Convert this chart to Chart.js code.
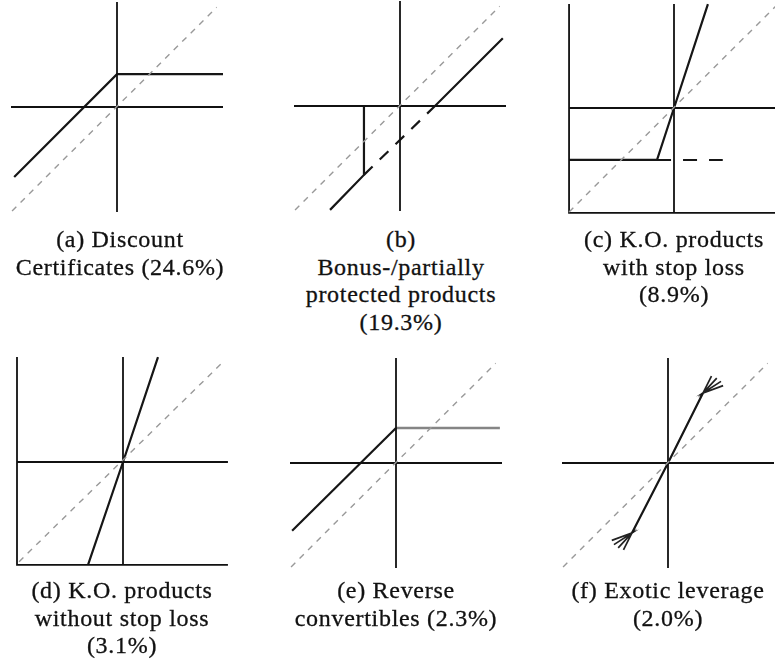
<!DOCTYPE html>
<html>
<head>
<meta charset="utf-8">
<script src="https://cdn.jsdelivr.net/npm/chart.js@4"></script>
<style>
  html, body { margin: 0; padding: 0; background: #fff; overflow: hidden; }
  body { width: 775px; height: 667px; position: relative; }
  .panel { position: absolute; width: 240px; height: 240px; }
  .caption {
    position: absolute; width: 260px; text-align: center;
    font-family: "Liberation Serif", "Times New Roman", serif;
    font-size: 24px; line-height: 27.5px; letter-spacing: 0.7px;
    color: #111; -webkit-text-stroke: 0.3px #111; white-space: nowrap;
  }
</style>
</head>
<body>
<script>
// Payoff profiles, expressed in units of the underlying (x) and product value (y).
// Reference line: the underlying itself (45° diagonal).
const diagonal = [[-0.99, -0.98], [0.94, 0.94]];
const axisH = [[-1.0, 0], [1.0, 0]];
const axisV = [[0, -0.99], [0, 0.99]];

// (a) Discount certificates: capped upside
const discountPayoff = [[-0.97, -0.66], [0, 0.31], [1.0, 0.31]];

// (b) Bonus / partially protected products
const bonusPayoff = [[-0.66, -0.98], [-0.34, -0.65], [-0.34, 0], [0.33, 0], [0.97, 0.64]];
const bonusKnockedIn = [[-0.34, -0.65], [0.33, 0]];

// (c) K.O. products with stop loss
const koFrameC = [[-0.99, 0.98], [-0.99, -0.99], [1.05, -0.99]];
const koAxisC = [[-0.99, 0], [1.05, 0]];
const koAxisVC = [[0, -0.99], [0, 0.98]];
const koDiagonalC = [[-0.99, -0.98], [1.0, 1.0]];
const koStopPayoff = [[-0.99, -0.49], [-0.16, -0.49], [0, 0], [0.32, 0.98]];
const koStopRemainder = [[-0.16, -0.49], [0.46, -0.49]];

// (d) K.O. products without stop loss
const koFrameD = [[-1.0, 0.99], [-1.0, -0.97], [0.99, -0.97]];
const koAxisD = [[-1.0, 0], [0.99, 0]];
const koAxisVD = [[0, -0.97], [0, 0.99]];
const koDiagonalD = [[-0.98, -0.94], [0.94, 0.94]];
const koPayoff = [[-0.33, -0.97], [0, 0], [0.33, 0.99]];

// (e) Reverse convertibles
const reversePayoff = [[-0.98, -0.64], [0, 0.33]];
const reverseCoupon = [[0, 0.33], [0.98, 0.33]];

// (f) Exotic leverage
const exoticPayoff = [[-0.34, -0.66], [0, 0], [0.33, 0.66]];
const exoticTipUp = [[0.33, 0.66], [0.41, 0.82], [0.33, 0.66], [0.46, 0.80],
                     [0.33, 0.66], [0.50, 0.77], [0.33, 0.66], [0.52, 0.73]];
const exoticTipDown = [[-0.34, -0.66], [-0.53, -0.73], [-0.34, -0.66], [-0.51, -0.77],
                       [-0.34, -0.66], [-0.47, -0.80], [-0.34, -0.66], [-0.42, -0.82]];

const captions = {
  a: ["(a) Discount", "Certificates (24.6%)"],
  b: ["(b)", "Bonus-/partially", "protected products", "(19.3%)"],
  c: ["(c) K.O. products", "with stop loss", "(8.9%)"],
  d: ["(d) K.O. products", "without stop loss", "(3.1%)"],
  e: ["(e) Reverse", "convertibles (2.3%)"],
  f: ["(f) Exotic leverage", "(2.0%)"]
};

// Styles
const AXIS = { color: '#111', width: 1.8 };
const PAY = { color: '#161616', width: 2.2 };
const DIAG = { color: '#999', width: 1.4, dash: [6, 6] };

const UNIT = 106;       // pixels per unit
const HALF = 120;       // half canvas size in pixels

const pts = arr => arr.map(p => ({ x: p[0], y: p[1] }));
const ds = (arr, style) => ({
  data: pts(arr), showLine: true, pointRadius: 0, fill: false, tension: 0,
  borderColor: style.color, borderWidth: style.width, borderDash: style.dash || [],
  borderCapStyle: 'butt', borderJoinStyle: 'miter'
});
const diagDs = arr => ds(arr, DIAG);
const axisDs = arr => ds(arr, AXIS);
const payDs = arr => ds(arr, PAY);

const panels = [
  { id: 'a', cx: 117, cy: 107, capX: 120, capY: 226, datasets: [
      diagDs(diagonal), axisDs(axisH), axisDs(axisV), payDs(discountPayoff)] },
  { id: 'b', cx: 400, cy: 106, capX: 401, capY: 226, datasets: [
      diagDs(diagonal), axisDs(axisH), axisDs(axisV), payDs(bonusPayoff),
      ds(bonusKnockedIn, { color: '#161616', width: 2.2, dash: [12, 10] })] },
  { id: 'c', cx: 674, cy: 108, capX: 674, capY: 226, datasets: [
      diagDs(koDiagonalC), axisDs(koFrameC), axisDs(koAxisC), axisDs(koAxisVC), payDs(koStopPayoff),
      ds(koStopRemainder, { color: '#161616', width: 1.9, dash: [14, 12] })] },
  { id: 'd', cx: 123, cy: 462, capX: 122, capY: 577, datasets: [
      diagDs(koDiagonalD), axisDs(koFrameD), axisDs(koAxisD), axisDs(koAxisVD), payDs(koPayoff)] },
  { id: 'e', cx: 396, cy: 463, capX: 396, capY: 577, datasets: [
      diagDs(diagonal), axisDs(axisH), axisDs(axisV), payDs(reversePayoff),
      ds(reverseCoupon, { color: '#858585', width: 2.7 })] },
  { id: 'f', cx: 668, cy: 463, capX: 668, capY: 577, datasets: [
      diagDs(diagonal), axisDs(axisH), axisDs(axisV), payDs(exoticPayoff),
      ds(exoticTipUp, { color: '#222', width: 1.7 }), ds(exoticTipDown, { color: '#222', width: 1.7 })] }
];

panels.forEach(p => {
  const holder = document.createElement('div');
  holder.className = 'panel';
  holder.style.left = (p.cx - HALF) + 'px';
  holder.style.top = (p.cy - HALF) + 'px';
  const canvas = document.createElement('canvas');
  canvas.width = 2 * HALF; canvas.height = 2 * HALF;
  holder.appendChild(canvas);
  document.body.appendChild(holder);

  const lim = HALF / UNIT;
  new Chart(canvas, {
    type: 'scatter',
    data: { datasets: p.datasets },
    options: {
      responsive: false, animation: false, devicePixelRatio: 1,
      layout: { padding: 0 },
      plugins: { legend: { display: false }, tooltip: { enabled: false }, title: { display: false } },
      scales: {
        x: { type: 'linear', display: false, min: -lim, max: lim },
        y: { type: 'linear', display: false, min: -lim, max: lim }
      },
      events: []
    }
  });

  const cap = document.createElement('div');
  cap.className = 'caption';
  cap.style.left = (p.capX - 130) + 'px';
  cap.style.top = p.capY + 'px';
  captions[p.id].forEach((line, i) => {
    if (i) cap.appendChild(document.createElement('br'));
    cap.appendChild(document.createTextNode(line));
  });
  document.body.appendChild(cap);
});
</script>
</body>
</html>
